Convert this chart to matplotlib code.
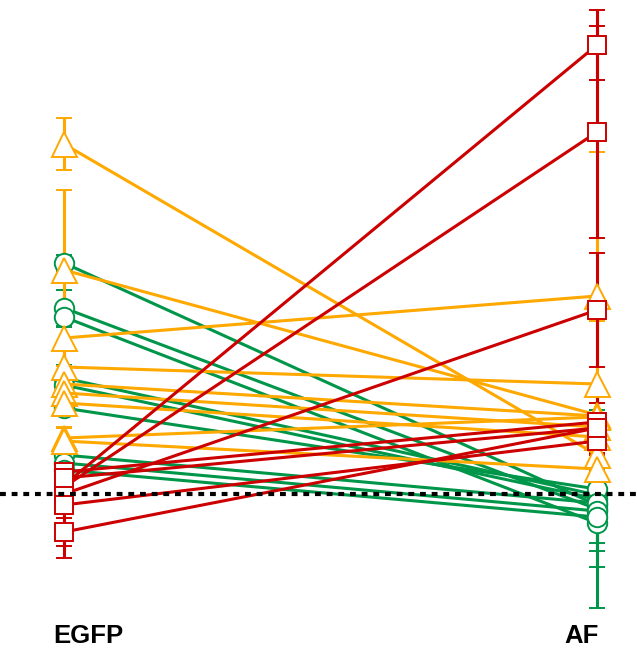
import matplotlib
matplotlib.use("Agg")
from matplotlib import pyplot as plt

# x positions: 0 = EGFP, 1 = AF
labels = ["EGFP", "AF"]

# orange (triangles)
orange_egfp = [4.50, 3.24, 2.56, 2.27, 2.10, 2.01, 1.91, 1.56, 1.53]
orange_af = [1.39, 1.79, 2.98, 2.10, 1.78, 1.67, 1.57, 1.77, 1.25]
orange_err_egfp = [0.26, 0.80, 0.55, 0.22, 0.18, 0.12, 0.10, 0.10, 0.14]
orange_err_af = [0.08, 0.12, 1.44, 0.63, 0.20, 0.14, 0.18, 0.22, 0.08]

# green (circles)
green_egfp = [3.31, 2.86, 2.77, 2.16, 2.09, 1.86, 1.39, 1.31, 1.24]
green_af = [0.89, 0.85, 0.71, 0.99, 0.95, 1.05, 0.91, 0.83, 0.77]
green_err_egfp = [0.08, 0.18, 0.10, 0.30, 0.20, 0.05, 0.05, 0.10, 0.08]
green_err_af = [0.08, 0.99, 0.20, 0.25, 0.30, 0.15, 0.10, 0.40, 0.50]

# red (squares)
red_egfp = [1.09, 1.07, 1.00, 1.22, 1.16, 0.89, 0.62]
red_af = [5.49, 4.62, 2.84, 1.72, 1.66, 1.53, 1.66]
red_err_egfp = [0.15, 0.25, 0.10, 0.18, 0.10, 0.53, 0.14]
red_err_af = [0.35, 1.06, 0.57, 0.33, 0.15, 0.20, 0.25]

groups = [
    (green_egfp, green_af, green_err_egfp, green_err_af, "#00964A", "o", 14),
    (orange_egfp, orange_af, orange_err_egfp, orange_err_af, "#FFA800", "^", 18),
    (red_egfp, red_af, red_err_egfp, red_err_af, "#CC0000", "s", 13),
]

fig = plt.figure(figsize=(6.37, 6.48), dpi=100)
ax = fig.add_axes([0, 0, 1, 1])

for left, right, el, er, col, mk, ms in groups:
    for i in range(len(left)):
        ax.errorbar([0, 1], [left[i], right[i]], yerr=[el[i], er[i]],
                    fmt=mk, linestyle="-", color=col, linewidth=2.2,
                    markersize=ms, markerfacecolor="white",
                    markeredgecolor=col, markeredgewidth=1.4,
                    elinewidth=2.2, capsize=5.8, capthick=2.2)

ax.axhline(1.0, color="black", linestyle=(0, (1.4, 1.4)), linewidth=3, zorder=10)

ax.set_xlim(-64 / 533, 1 + 40 / 533)
ax.set_ylim(-0.54, 5.94)
ax.axis("off")

fig.text(88 / 637, 1 - 636 / 648, labels[0], ha="center", va="center",
         fontsize=18.5, fontweight="bold", family="Liberation Sans")
fig.text(582 / 637, 1 - 636 / 648, labels[1], ha="center", va="center",
         fontsize=18.5, fontweight="bold", family="Liberation Sans")

plt.savefig("out.png", dpi=100)
plt.close()
